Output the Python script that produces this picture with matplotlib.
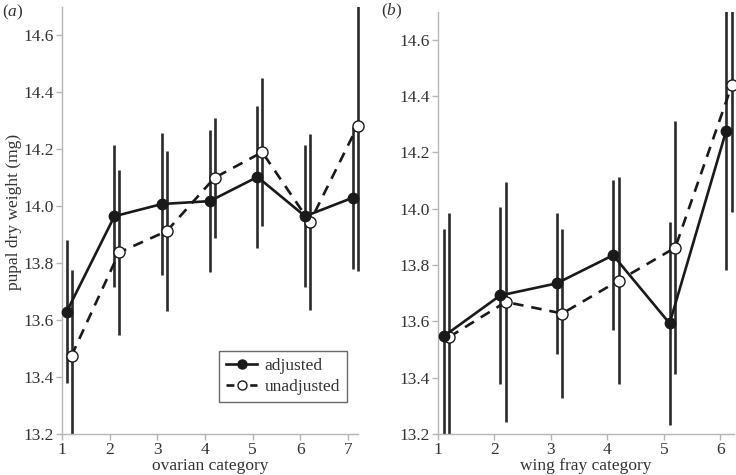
import matplotlib
matplotlib.use("Agg")
import matplotlib.pyplot as plt
from matplotlib.lines import Line2D
from matplotlib.patches import Rectangle
import numpy as np

plt.rcParams['font.family'] = ['Liberation Serif', 'DejaVu Serif']
plt.rcParams['mathtext.fontset'] = 'custom'
plt.rcParams['mathtext.it'] = 'Liberation Serif:italic'
plt.rcParams['mathtext.rm'] = 'Liberation Serif'

# Panel (a): ovarian category
ovarian_cat = [1, 2, 3, 4, 5, 6, 7]
ovarian_adj = [13.63, 13.965, 14.008, 14.018, 14.103, 13.965, 14.03]
ovarian_adj_err = [0.25, 0.25, 0.25, 0.25, 0.25, 0.25, 0.25]
ovarian_unadj = [13.475, 13.838, 13.913, 14.10, 14.19, 13.944, 14.281]
ovarian_unadj_err = [0.30, 0.29, 0.28, 0.21, 0.26, 0.31, 0.51]

# Panel (b): wing fray category
wing_cat = [1, 2, 3, 4, 5, 6]
wing_adj = [13.547, 13.692, 13.735, 13.835, 13.593, 14.276]
wing_adj_err = [0.38, 0.315, 0.25, 0.267, 0.36, 0.495]
wing_unadj = [13.545, 13.669, 13.628, 13.745, 13.862, 14.438]
wing_unadj_err = [0.44, 0.425, 0.30, 0.368, 0.45, 0.45]

yticks = [13.2, 13.4, 13.6, 13.8, 14.0, 14.2, 14.4, 14.6]

fig = plt.figure(figsize=(7.36, 4.75), dpi=100)
ax_a = fig.add_axes([62/736, 41/475, 296/736, 427/475])
ax_b = fig.add_axes([438/736, 41/475, 296/736, 422.3/475])

spine_col = '#b5b5b5'
line_col = '#1a1a1a'
err_col = '#2a2a2a'
text_col = '#333333'
FS = 12.5


def draw(ax, cats, adj, adj_err, unadj, unadj_err, xmax, xlabel):
    cats = np.asarray(cats, dtype=float)
    xa = cats + 0.1
    xu = cats + 0.2
    clip = Rectangle((-0.05, 0), 1.1, 1, transform=ax.transAxes,
                     facecolor='none', edgecolor='none')
    for xx, yy, ee in ((xa, adj, adj_err), (xu, unadj, unadj_err)):
        cont = ax.errorbar(xx, yy, yerr=ee, fmt='none', ecolor=err_col,
                           elinewidth=1.9, capsize=0, zorder=2)
        for lc in cont.lines[2]:
            lc.set_clip_path(clip)
    ax.plot(xa, adj, '-', color=line_col, lw=1.9, marker='o', ms=7.5,
            mfc=line_col, mec=line_col, zorder=4, clip_on=False)
    ax.plot(xu, unadj, '--', color=line_col, lw=1.9, dashes=(4, 3),
            marker='o', ms=8, mfc='white', mec=line_col, mew=1.0, zorder=3,
            clip_on=False)
    ax.set_xlim(1, xmax)
    ax.set_ylim(13.2, 14.7)
    ax.set_xticks(list(cats.astype(int)))
    ax.set_xticklabels([str(int(c)) for c in cats])
    ax.set_yticks(yticks)
    ax.set_yticklabels([f"{v:.1f}" for v in yticks])
    for s in ['top', 'right']:
        ax.spines[s].set_visible(False)
    for s in ['left', 'bottom']:
        ax.spines[s].set_color(spine_col)
        ax.spines[s].set_linewidth(1.0)
    ax.tick_params(axis='both', colors=spine_col, labelcolor=text_col,
                   labelsize=FS, length=4, width=1.0, pad=2)
    ax.set_xlabel(xlabel, fontsize=FS, color=text_col, labelpad=0)


draw(ax_a, ovarian_cat, ovarian_adj, ovarian_adj_err, ovarian_unadj,
     ovarian_unadj_err, 7.21, 'ovarian category')
draw(ax_b, wing_cat, wing_adj, wing_adj_err, wing_unadj,
     wing_unadj_err, 6.24, 'wing fray category')

ax_a.set_ylabel('pupal dry weight (mg)', fontsize=FS, color=text_col,
                labelpad=6)
ax_a.yaxis.set_label_coords(-0.135, 0.52)

fig.text(2/736, 1 - 12/475, '($\\it{a}$)', fontsize=FS, va='center',
         ha='left', color=text_col)
fig.text(381/736, 1 - 11/475, '($\\it{b}$)', fontsize=FS, va='center',
         ha='left', color=text_col)

handles = [
    Line2D([], [], color=line_col, lw=1.9, marker='o', ms=6.5,
           mfc=line_col, mec=line_col),
    Line2D([], [], color=line_col, lw=1.9, ls='--', dashes=(3, 1.5),
           marker='o', ms=6.5, mfc='white', mec=line_col, mew=1.0),
]
leg = ax_a.legend(handles, ['adjusted', 'unadjusted'], loc='lower right',
                  bbox_to_anchor=(0.962, 0.076), borderaxespad=0,
                  fontsize=FS, frameon=True, fancybox=False,
                  handlelength=1.8, handletextpad=0.4, borderpad=0.4,
                  labelspacing=0.25)
leg.get_frame().set_edgecolor('#444444')
leg.get_frame().set_linewidth(1.0)
for t in leg.get_texts():
    t.set_color(text_col)

fig.savefig('out.png', dpi=100)
